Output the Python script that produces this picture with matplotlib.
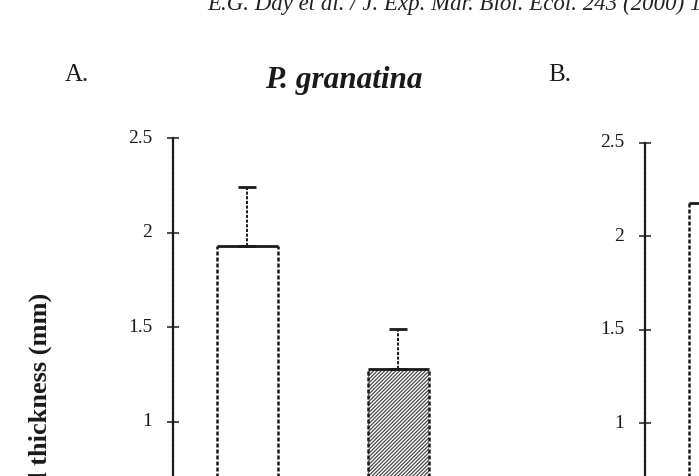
import matplotlib
matplotlib.use("Agg")
import matplotlib.pyplot as plt
import matplotlib.transforms as mtransforms
import numpy as np

# ---------------- data ----------------
header_text = "E.G. Day et al. / J. Exp. Mar. Biol. Ecol. 243 (2000) 1"
panel_a_title = "P. granatina"
panel_labels = ["A.", "B."]
ylabel_text = "Shell thickness (mm)"

panel_a_values = [1.93, 1.28]
panel_a_errors = [0.31, 0.21]
panel_a_hatches = ["", "/" * 9]
panel_a_faces = ["white", "white"]

panel_b_values = [2.18]
panel_b_hatches = [""]
panel_b_faces = ["white"]

ytick_values = [1, 1.5, 2, 2.5]
ytick_labels = ["1", "1.5", "2", "2.5"]

# ---------------- style ----------------
plt.rcParams['font.family'] = ['Liberation Serif', 'DejaVu Serif']
plt.rcParams['hatch.linewidth'] = 0.9
W, H = 699, 477
DPI = 100
fig = plt.figure(figsize=(W / DPI, H / DPI), dpi=DPI)
fig.patch.set_facecolor("white")

DASH = (0, (1.6, 0.8))
INK = "#1a1a1a"
BAR_W = 0.404


def px_to_fig(x, y):
    return x / W, 1 - y / H


def make_axes(x_axis_px, y_top_px, y_zero_px, width_px):
    left = x_axis_px / W
    bottom = (H - y_zero_px) / H
    height = (y_zero_px - y_top_px) / H
    ax = fig.add_axes([left, bottom, width_px / W, height])
    ax.set_ylim(0, 2.5)
    ax.set_xlim(-0.493, 1.6)
    for s in ("top", "right", "bottom"):
        ax.spines[s].set_visible(False)
    ax.spines["left"].set_linestyle(DASH)
    ax.spines["left"].set_linewidth(1.6)
    ax.spines["left"].set_color(INK)
    ax.set_xticks([])
    ax.set_yticks(ytick_values)
    ax.set_yticklabels(ytick_labels)
    ax.tick_params(axis="y", direction="inout", length=9, width=1.1,
                   pad=10.5, labelsize=14, colors=INK)
    ax.patch.set_alpha(0)
    off = mtransforms.ScaledTranslation(0, 3 / DPI, fig.dpi_scale_trans)
    for lab in ax.get_yticklabels():
        lab.set_transform(lab.get_transform() + off)
    return ax


def draw_bars(ax, values, faces, hatches, errors=None):
    x = np.arange(len(values))
    v = np.array(values)
    for xi, vi, fc, h in zip(x, v, faces, hatches):
        ax.bar(xi, vi, width=BAR_W, color=fc, hatch=h, edgecolor="#4a4a4a",
               linewidth=0, zorder=2)
    ax.vlines(x - BAR_W / 2, 0, v, colors=INK, linewidth=1.8,
              linestyles=[DASH], zorder=3)
    ax.vlines(x + BAR_W / 2, 0, v, colors=INK, linewidth=1.8,
              linestyles=[DASH], zorder=3)
    ax.hlines(v, x - BAR_W / 2, x + BAR_W / 2, colors=INK, linewidth=2.0,
              zorder=4)
    if errors is not None:
        eb = ax.errorbar(x, v, yerr=[np.zeros_like(v), np.array(errors)],
                         fmt="none", ecolor=INK, elinewidth=1.4, capsize=6.5,
                         capthick=2.0, zorder=3)
        for lc in eb[2]:
            lc.set_linestyle(DASH)


ax_a = make_axes(173, 139, 612.3, 316)
draw_bars(ax_a, panel_a_values, panel_a_faces, panel_a_hatches, panel_a_errors)

ax_b = make_axes(645, 144, 610.7, 316)
draw_bars(ax_b, panel_b_values, panel_b_faces, panel_b_hatches)

# ---------------- texts ----------------
fig.text(*px_to_fig(207, 10), header_text, fontsize=16.5, style="italic",
         ha="left", va="baseline", color="#222222")
fig.text(*px_to_fig(65, 81), panel_labels[0], fontsize=18, ha="left",
         va="baseline", color=INK)
fig.text(*px_to_fig(548, 81), panel_labels[1], fontsize=18, ha="left",
         va="baseline", color=INK)
fig.text(*px_to_fig(265, 88), panel_a_title, fontsize=22.5, style="italic",
         weight="bold", ha="left", va="baseline", color=INK)
fig.text(*px_to_fig(40, 293), ylabel_text, fontsize=19, weight="bold",
         rotation=90, ha="center", va="top", color=INK)

fig.savefig("out.png", dpi=DPI, facecolor="white")
